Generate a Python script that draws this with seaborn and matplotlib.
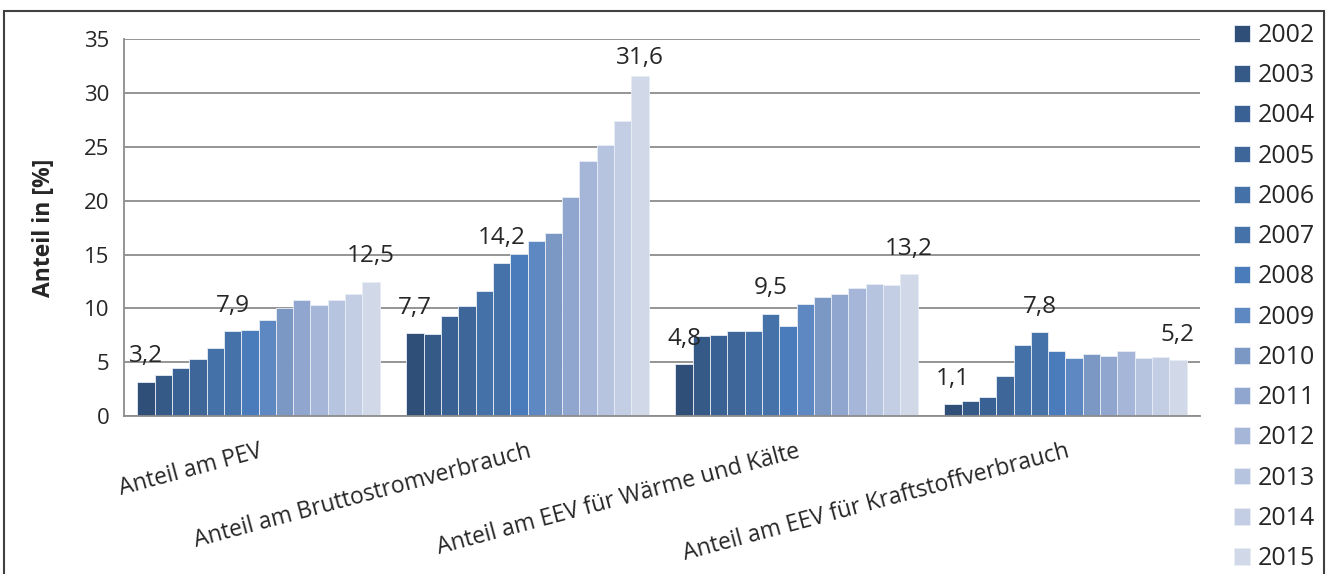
"""
Anteile erneuerbarer Energien 2002-2015 (gruppierte Säulen, 4 Indikatoren).
"""

import pandas as pd
import seaborn as sns
import matplotlib.pyplot as plt
from matplotlib.patches import Rectangle

# --- DATEN ---
categories = ['Anteil am PEV', 'Anteil am Bruttostromverbrauch',
              'Anteil am EEV für Wärme und Kälte', 'Anteil am EEV für Kraftstoffverbrauch']
years = [str(y) for y in range(2002, 2016)]

pev = [3.2, 3.8, 4.5, 5.3, 6.3, 7.9, 8.0, 8.9, 10.0, 10.8, 10.3, 10.8, 11.3, 12.5]
strom = [7.7, 7.6, 9.3, 10.2, 11.6, 14.2, 15.1, 16.3, 17.0, 20.4, 23.7, 25.2, 27.4, 31.6]
waerme = [4.8, 7.4, 7.5, 7.9, 7.9, 9.5, 8.4, 10.4, 11.1, 11.3, 11.9, 12.3, 12.2, 13.2]
kraftstoff = [1.1, 1.4, 1.8, 3.7, 6.6, 7.8, 6.0, 5.4, 5.8, 5.6, 6.0, 5.4, 5.5, 5.2]

# Jahre mit Datenbeschriftung (2002, 2007, 2015)
labelled_years = ['2002', '2007', '2015']

colors = ['#2F4F78', '#355A88', '#3A6194', '#3E6698', '#4471A8', '#4672AA', '#4A7CBB',
          '#5D88C2', '#7B98C5', '#91A6CF', '#A5B6D8', '#B6C4E0', '#C3CEE4', '#D1D8E8']

rows = []
for cat, vals in zip(categories, [pev, strom, waerme, kraftstoff]):
    for yr, v in zip(years, vals):
        rows.append({'Kategorie': cat, 'Jahr': yr, 'Anteil': v})
df = pd.DataFrame(rows)

# --- PLOT ---
sns.set_style('white')
plt.rcParams['font.family'] = ['Open Sans', 'DejaVu Sans']

fig = plt.figure(figsize=(13.28, 5.74), dpi=100)
ax = fig.add_axes([0.0934, 0.2753, 0.8102, 0.6559])

sns.barplot(data=df, x='Kategorie', y='Anteil', hue='Jahr', order=categories,
            hue_order=years, palette=colors, saturation=1, width=0.9,
            edgecolor='#e8edf5', linewidth=0.6, ax=ax)

ax.set_ylim(0, 35)
ax.set_xlim(-0.5, 3.5)
ax.set_yticks(range(0, 36, 5))
ax.yaxis.grid(True, color='#8c8c8c', linewidth=1.3)
ax.set_axisbelow(True)
for s in ['top', 'right']:
    ax.spines[s].set_visible(False)
for s in ['left', 'bottom']:
    ax.spines[s].set_color('#8c8c8c')
    ax.spines[s].set_linewidth(1.3)

ax.tick_params(axis='y', length=6.5, color='#8c8c8c', width=1.3, labelsize=16, pad=4)
ax.set_xticks([-0.5, 0.5, 1.5, 2.5, 3.5], minor=True)
ax.tick_params(axis='x', which='minor', length=6.5, color='#8c8c8c', width=1.3)
ax.tick_params(axis='x', which='major', length=0, pad=17)
ax.set_xticks(range(len(categories)))
ax.set_xticklabels(categories, rotation=15, ha='right', va='top',
                   rotation_mode='anchor', fontsize=16.5)

ax.set_xlabel('')
ax.set_ylabel('Anteil in [%]', fontsize=16.5, fontweight='bold', labelpad=20)

# Datenbeschriftungen (im Diagrammbereich gehalten wie im Original)
for yr, cont in zip(years, ax.containers):
    if yr not in labelled_years:
        continue
    for patch in cont:
        v = patch.get_height()
        y = min(v + 1.25, 32.2)
        ax.text(patch.get_x() + patch.get_width() / 2, y, f'{v:.1f}'.replace('.', ','),
                ha='center', va='bottom', fontsize=17.5)

h, l = ax.get_legend_handles_labels()
ax.legend(h, l, loc='upper left', bbox_to_anchor=(0.929, 0.960),
          bbox_transform=fig.transFigure, frameon=False, fontsize=18,
          handlelength=0.65, handleheight=0.65, handletextpad=0.3,
          labelspacing=0.61, borderpad=0, borderaxespad=0)

# Rahmen um das Diagramm
fig.patches.append(Rectangle((4 / 1328, -0.01), 1320 / 1328, 1 - 11 / 574 + 0.01,
                             transform=fig.transFigure, fill=False,
                             edgecolor='#404040', linewidth=1.5))

fig.savefig('out.png', dpi=100)
